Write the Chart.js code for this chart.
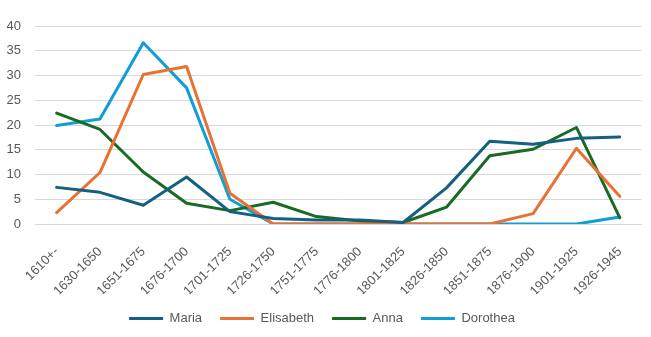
<!DOCTYPE html>
<html>
<head>
<meta charset="utf-8">
<script src="https://cdn.jsdelivr.net/npm/chart.js@4.4.1/dist/chart.umd.min.js"></script>
<style>
  html, body { margin: 0; padding: 0; background: #ffffff; }
  #wrap { width: 651px; height: 337px; position: relative; }
</style>
</head>
<body>
<div id="wrap"><canvas id="c"></canvas></div>
<script>
const categories = ["1610+-", "1630-1650", "1651-1675", "1676-1700", "1701-1725", "1726-1750", "1751-1775", "1776-1800", "1801-1825", "1826-1850", "1851-1875", "1876-1900", "1901-1925", "1926-1945"];
const maria     = [7.4, 6.4, 3.8, 9.5, 2.5, 1.1, 0.8, 0.8, 0.3, 7.3, 16.7, 16.1, 17.3, 17.6];
const elisabeth = [2.3, 10.4, 30.2, 31.8, 6.2, 0, 0, 0, 0, 0, 0, 2.1, 15.3, 5.6];
const anna      = [22.4, 19.1, 10.5, 4.2, 2.7, 4.4, 1.5, 0.6, 0.3, 3.4, 13.8, 15.1, 19.5, 1.3];
const dorothea  = [19.9, 21.2, 36.6, 27.5, 5.0, 0, 0, 0, 0, 0, 0, 0, 0, 1.4];
const yTicks    = [0, 5, 10, 15, 20, 25, 30, 35, 40];

const textColor = '#595959';
const fam = "'Liberation Sans', Arial, sans-serif";

function ds(label, data, color) {
  return {
    label, data,
    borderColor: color, backgroundColor: color,
    borderWidth: 3, pointRadius: 0, pointHoverRadius: 0,
    tension: 0, fill: false, pointStyle: 'line',
    borderJoinStyle: 'round', borderCapStyle: 'round'
  };
}

new Chart(document.getElementById('c'), {
  type: 'line',
  data: {
    labels: categories,
    datasets: [
      ds('Maria', maria, '#156082'),
      ds('Elisabeth', elisabeth, '#E97132'),
      ds('Anna', anna, '#196B24'),
      ds('Dorothea', dorothea, '#0F9ED5')
    ]
  },
  options: {
    responsive: true,
    maintainAspectRatio: false,
    animation: false,
    layout: { padding: { top: 26, left: 0, right: 7, bottom: 2 } },
    plugins: {
      title: { display: false },
      tooltip: { enabled: false },
      legend: {
        position: 'bottom',
        labels: {
          usePointStyle: true,
          pointStyle: 'line',
          pointStyleWidth: 34,
          boxHeight: 3,
          color: textColor,
          font: { family: fam, size: 13 },
          padding: 18
        }
      }
    },
    scales: {
      x: {
        offset: true,
        grid: { display: false, drawTicks: false },
        border: { display: true, color: '#d9d9d9', width: 1 },
        ticks: {
          color: textColor, font: { family: fam, size: 13 },
          maxRotation: 45, minRotation: 45, autoSkip: false, padding: 20
        },
        afterFit: (scale) => { scale.height = 70; }
      },
      y: {
        min: 0, max: 40,
        afterBuildTicks: (axis) => { axis.ticks = yTicks.map(v => ({ value: v })); },
        grid: { color: '#d9d9d9', drawTicks: false, lineWidth: 1 },
        border: { display: false },
        ticks: { color: textColor, font: { family: fam, size: 13 }, padding: 14 },
        afterFit: (scale) => { scale.width = 35; }
      }
    }
  }
});
</script>
</body>
</html>
